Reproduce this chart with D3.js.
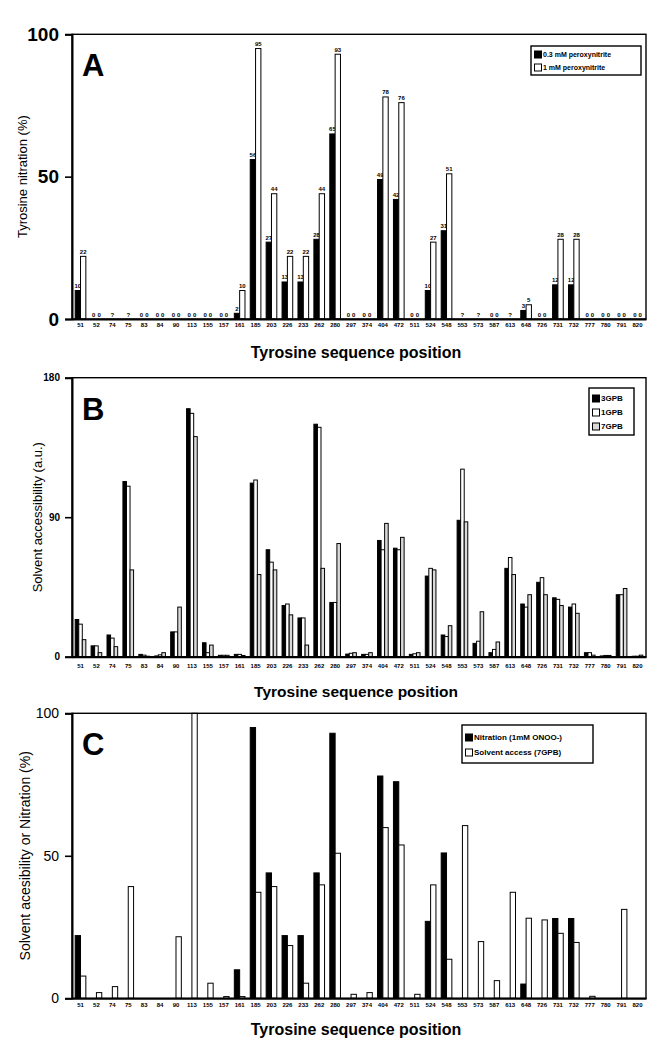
<!DOCTYPE html>
<html><head><meta charset="utf-8">
<script src="https://cdn.jsdelivr.net/npm/d3@7"></script>
<style>
body{margin:0;background:#fff}
svg{display:block}
text{font-family:"Liberation Sans",Arial,sans-serif;fill:#000}
</style>
</head><body>
<svg id="c" width="662" height="1050"></svg>
<script>
// ---- Data ----
const positions = ["51","52","74","75","83","84","90","113","155","157","161","185","203","226","233","262","280","297",
  "374","404","472","511","524","548","553","573","587","613","648","726","731","732","777","780","791","820"];

// Panel A: tyrosine nitration (%)
const nitration03mM = [10,0,0,0,0,0,0,0,0,0,2,56,27,13,13,28,65,0,0,49,42,0,10,31,0,0,0,0,3,0,12,12,0,0,0,0];
const nitration1mM  = [22,0,0,0,0,0,0,0,0,0,10,95,44,22,22,44,93,0,0,78,76,0,27,51,0,0,0,0,5,0,28,28,0,0,0,0];
const unresolvedA = ["74","75","553","573","613"];

// Panel B: solvent accessibility (a.u.)
const acc3GPB = [24,7,14,113,1.5,0.5,16,160,9,0.9,1.5,112,69,33,25,150,35,1.7,1.5,75,70,1.5,52,14,88,8.6,2.6,57,34,48,38,32,2.6,0.5,40,0.3];
const acc1GPB = [21,7,12,110,1,1.2,16,157,2.6,0.9,1.5,114,61,34,25,148,35,2.2,1.5,69,69,1.9,57,13,121,10,4.7,64,32,51,37,34,2.6,0.8,40,0.3];
const acc7GPB = [11,2.6,6.5,56,0.3,2.6,32,142,7.5,0.9,0.8,53,56,27,7.5,57,73,2.6,2.6,86,77,2.6,56,20,87,29,9.5,53,40,40,33,28,1,0.8,44,1];

// Panel C: solvent accessibility (7GPB, % of max) vs nitration (1 mM)
const accessPct7GPB = [7.8,2,4.1,39.2,0,0,21.6,100,5.3,0.6,0.6,37.2,39.2,18.5,5.3,39.8,50.9,1.4,2,59.9,53.8,1.4,39.8,13.7,60.6,19.9,6.2,37.2,28.1,27.5,22.8,19.6,0.7,0,31.2,0];

const svg = d3.select("#c");
const X0 = 72, X1 = 646;
const x = d3.scaleBand().domain(positions).range([X0, X1]).paddingInner(0.33).paddingOuter(0.2);

function panel(o) {
  const g = svg.append("g");
  const y = d3.scaleLinear().domain([0, o.yMax]).range([o.bottom, o.top]);
  const sub = d3.scaleBand().domain(d3.range(o.series.length)).range([0, x.bandwidth()]);
  o.series.forEach((s, si) => {
    const rows = s.values.map((v, i) => ({v, p: positions[i]}));
    g.selectAll(null).data(rows).join("rect")
      .attr("x", d => x(d.p) + sub(si))
      .attr("width", sub.bandwidth())
      .attr("y", d => y(Math.min(d.v, o.yMax)))
      .attr("height", d => o.bottom - y(Math.min(d.v, o.yMax)))
      .attr("fill", s.fill).attr("stroke", "#000").attr("stroke-width", 1);
    if (o.valueLabels) {
      g.selectAll(null).data(rows.filter(d => !o.unresolved.includes(d.p))).join("text")
        .attr("x", d => x(d.p) + sub(si) + sub.bandwidth() / 2)
        .attr("y", d => y(d.v) - 2.5)
        .attr("text-anchor", "middle").attr("font-size", 6).attr("font-weight", "bold")
        .text(d => d.v);
    }
  });
  if (o.valueLabels) {
    g.selectAll(null).data(o.unresolved).join("text")
      .attr("x", d => x(d) + x.bandwidth() / 2).attr("y", o.bottom - 2.5)
      .attr("text-anchor", "middle").attr("font-size", 6).attr("font-weight", "bold").text("?");
  }
  // frame
  g.append("rect").attr("x", X0).attr("y", o.top).attr("width", X1 - X0).attr("height", o.bottom - o.top)
    .attr("fill", "none").attr("stroke", "#000").attr("stroke-width", 1.4);
  // y axis
  const ya = g.append("g").attr("transform", `translate(${X0},0)`)
    .call(d3.axisLeft(y).tickValues(o.ticks).tickSize(7).tickPadding(o.tickPad).tickFormat(d3.format("d")));
  ya.select(".domain").attr("stroke-width", 2);
  ya.selectAll(".tick line").attr("stroke-width", 1.6);
  ya.selectAll("text").attr("font-size", o.tickFont).attr("font-weight", o.tickWeight)
    .attr("font-family", "Liberation Sans, Arial, sans-serif").attr("fill", "#000");
  // x axis
  const xa = g.append("g").attr("transform", `translate(0,${o.bottom})`)
    .call(d3.axisBottom(x).tickSize(0).tickPadding(o.xPad));
  xa.select(".domain").attr("stroke-width", 2);
  xa.selectAll("text").attr("font-size", 6).attr("font-weight", "bold")
    .attr("font-family", "Liberation Sans, Arial, sans-serif").attr("fill", "#000");
  // titles
  g.append("text").attr("x", 356).attr("y", o.titleY).attr("text-anchor", "middle")
    .attr("font-size", o.titleFont).attr("font-weight", "bold").text("Tyrosine sequence position");
  g.append("text").attr("transform", `translate(${o.yLabelX},${(o.top + o.bottom) / 2}) rotate(-90)`)
    .attr("text-anchor", "middle").attr("font-size", o.yLabelFont).attr("dy", "0.35em").text(o.yLabel);
  g.append("text").attr("x", 82).attr("y", o.top + 42).attr("font-size", 31).attr("font-weight", "bold").text(o.letter);
  // legend
  const L = o.legend;
  g.append("rect").attr("x", L.x).attr("y", L.y).attr("width", L.w).attr("height", L.h)
    .attr("fill", "#fff").attr("stroke", "#000").attr("stroke-width", 1.4);
  L.items.forEach((it, i) => {
    const yy = L.y + L.pad + i * L.step;
    g.append("rect").attr("x", L.x + 3.5).attr("y", yy - L.sq + 1).attr("width", L.sq).attr("height", L.sq)
      .attr("fill", it.fill).attr("stroke", "#000").attr("stroke-width", 1);
    g.append("text").attr("x", L.x + 5 + L.sq).attr("y", yy).attr("font-size", L.font).attr("font-weight", "bold").text(it.label);
  });
}

panel({
  top: 34.3, bottom: 319, yMax: 100, ticks: [0, 50, 100], tickFont: 19, tickWeight: "bold", tickPad: 6,
  xPad: 4, titleY: 358, titleFont: 16, yLabel: "Tyrosine nitration (%)", yLabelX: 22, yLabelFont: 13, letter: "A",
  valueLabels: true, unresolved: unresolvedA,
  series: [{values: nitration03mM, fill: "#000"}, {values: nitration1mM, fill: "#fff"}],
  legend: {x: 531, y: 46, w: 110, h: 29, pad: 11, step: 13, sq: 7, font: 7,
    items: [{label: "0.3 mM peroxynitrite", fill: "#000"}, {label: "1 mM peroxynitrite", fill: "#fff"}]}
});

panel({
  top: 377.7, bottom: 656.7, yMax: 180, ticks: [0, 90, 180], tickFont: 10, tickWeight: "bold", tickPad: 5,
  xPad: 7, titleY: 697, titleFont: 15.5, yLabel: "Solvent accessibility (a.u.)", yLabelX: 37, yLabelFont: 13, letter: "B",
  valueLabels: false, unresolved: [],
  series: [{values: acc3GPB, fill: "#000"}, {values: acc1GPB, fill: "#fff"}, {values: acc7GPB, fill: "#d9d9d9"}],
  legend: {x: 589, y: 388, w: 45, h: 47, pad: 13, step: 14, sq: 7, font: 8,
    items: [{label: "3GPB", fill: "#000"}, {label: "1GPB", fill: "#fff"}, {label: "7GPB", fill: "#d9d9d9"}]}
});

panel({
  top: 713.3, bottom: 998.3, yMax: 100, ticks: [0, 50, 100], tickFont: 14, tickWeight: "normal", tickPad: 6,
  xPad: 4, titleY: 1035, titleFont: 16, yLabel: "Solvent acesibility or Nitration (%)", yLabelX: 25, yLabelFont: 14, letter: "C",
  valueLabels: false, unresolved: [],
  series: [{values: nitration1mM, fill: "#000"}, {values: accessPct7GPB, fill: "#fff"}],
  legend: {x: 462, y: 725, w: 131, h: 38, pad: 15, step: 15, sq: 7, font: 8,
    items: [{label: "Nitration (1mM ONOO-)", fill: "#000"}, {label: "Solvent access (7GPB)", fill: "#fff"}]}
});
</script>
</body></html>
